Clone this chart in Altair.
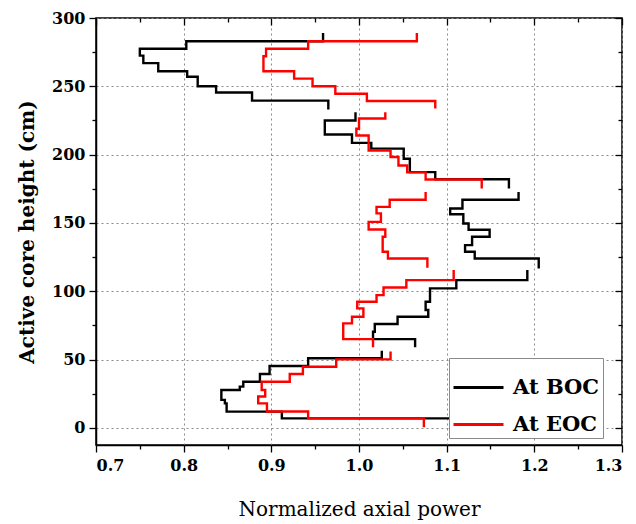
import altair as alt
import pandas as pd

SERIES = ["At BOC", "At EOC"]
COLORS = ["#000000", "#ff0000"]

# Height boundaries (cm) of each axial zone, top to bottom, and the power of each step
BOC_EDGES = [
    [289, 283, 277.5, 272.5, 267, 261, 257, 250, 245.5, 239.5, 233],
    [231, 225, 214.7, 208.6, 204.4, 197, 187.2, 182, 175.2],
    [172.7, 167, 160.6, 156.4, 149.6, 145, 139.9, 133.8, 128.9, 124, 116.7],
    [115.5, 108.2, 102.1, 92.3, 86.3, 81.4, 76, 70.4, 65, 59],
    [56.5, 51, 45.3, 39.5, 33.8, 30.2, 27.8, 20.5, 18, 11.9, 7, 0],
]
BOC_POWER = [
    [0.959, 0.803, 0.750, 0.754, 0.771, 0.804, 0.816, 0.837, 0.878, 0.965],
    [0.996, 0.961, 0.992, 1.014, 1.051, 1.058, 1.087, 1.171],
    [1.182, 1.118, 1.104, 1.119, 1.125, 1.149, 1.129, 1.121, 1.132, 1.205],
    [1.192, 1.111, 1.081, 1.076, 1.079, 1.044, 1.018, 1.016, 1.064],
    [1.026, 0.942, 0.898, 0.887, 0.868, 0.864, 0.843, 0.847, 0.849, 0.912, 1.130],
]
EOC_EDGES = [
    [289, 283, 277.5, 272, 261, 255.6, 250, 244.6, 239.3, 233.7],
    [231, 226.4, 219, 214, 203, 198.3, 192, 187, 181.8, 175.2],
    [172.7, 167, 161.8, 157, 150.8, 145.2, 139.9, 128.9, 124, 117.2],
    [115.5, 108.2, 102.8, 97.2, 92.3, 87.5, 81.4, 76.5, 65, 59],
    [56, 50.2, 44.8, 39.5, 33.8, 27.8, 23, 18, 12, 7, 0.5],
]
EOC_POWER = [
    [1.066, 0.942, 0.894, 0.891, 0.926, 0.947, 0.973, 1.009, 1.087],
    [1.030, 1.000, 0.997, 1.011, 1.036, 1.045, 1.055, 1.076, 1.140],
    [1.076, 1.035, 1.020, 1.025, 1.011, 1.030, 1.027, 1.033, 1.078],
    [1.108, 1.054, 1.028, 1.020, 0.998, 1.005, 0.992, 0.982, 1.016],
    [1.036, 0.974, 0.936, 0.921, 0.889, 0.893, 0.885, 0.895, 0.942, 1.074],
]

X_TICKS = [0.7, 0.75, 0.8, 0.85, 0.9, 0.95, 1.0, 1.05, 1.1, 1.15, 1.2, 1.25, 1.3]
Y_TICKS = [0, 25, 50, 75, 100, 125, 150, 175, 200, 225, 250, 275, 300]

rows = []
for name, edges_list, power_list in [("At BOC", BOC_EDGES, BOC_POWER),
                                     ("At EOC", EOC_EDGES, EOC_POWER)]:
    for z, (edges, powers) in enumerate(zip(edges_list, power_list)):
        k = 0
        for i, p in enumerate(powers):
            rows.append(dict(series=name, zone=z, idx=k, power=p, height=edges[i]))
            k += 1
            rows.append(dict(series=name, zone=z, idx=k, power=p, height=edges[i + 1]))
            k += 1
df = pd.DataFrame(rows)

FONT = "DejaVu Serif"
xmaj = "round(datum.value*100) % 10 == 0"
ymaj = "round(datum.value) % 50 == 0"

x_main = alt.Axis(
    values=X_TICKS, orient="bottom",
    labelExpr=f"{xmaj} ? format(datum.value, '.1f') : ''",
    tickSize={"condition": {"test": xmaj, "value": 7}, "value": 4},
    grid=True, gridDash=[2, 3], gridColor="#8a8a8a", gridWidth=1,
    gridOpacity={"condition": {"test": xmaj, "value": 1}, "value": 0},
    title="Normalized axial power", titleFont=FONT, titleFontSize=20,
    titleFontWeight="normal", titleColor="black", titlePadding=26,
    labelFont=FONT, labelFontSize=16, labelFontWeight="bold", labelColor="black",
    labelPadding=5, domainColor="black", domainWidth=1.5, tickColor="black",
    tickWidth=1.3,
)
y_main = alt.Axis(
    values=Y_TICKS, orient="left",
    labelExpr=f"{ymaj} ? format(datum.value, 'd') : ''",
    tickSize={"condition": {"test": ymaj, "value": 7}, "value": 4},
    grid=True, gridDash=[2, 3], gridColor="#8a8a8a", gridWidth=1,
    gridOpacity={"condition": {"test": ymaj, "value": 1}, "value": 0},
    title="Active core height (cm)", titleFont=FONT, titleFontSize=20,
    titleFontWeight="bold", titleColor="black", titlePadding=14,
    labelFont=FONT, labelFontSize=16, labelFontWeight="bold", labelColor="black",
    labelPadding=4, domainColor="black", domainWidth=1.5, tickColor="black",
    tickWidth=1.3,
)
x_mirror = alt.Axis(
    values=X_TICKS, orient="bottom", offset=-427, labels=False, grid=False,
    domain=False, title="",
    tickSize={"condition": {"test": xmaj, "value": 7}, "value": 4},
    tickColor="black", tickWidth=1.3,
)
y_mirror = alt.Axis(
    values=Y_TICKS, orient="left", offset=-526, labels=False, grid=False,
    domain=False, title="",
    tickSize={"condition": {"test": ymaj, "value": 7}, "value": 4},
    tickColor="black", tickWidth=1.3,
)

xscale = alt.Scale(domain=[0.7, 1.3], nice=False, zero=False)
yscale = alt.Scale(domain=[-12.5, 300], nice=False, zero=False)
color = alt.Color(
    "series:N",
    scale=alt.Scale(domain=SERIES, range=COLORS),
    legend=alt.Legend(
        orient="none", legendX=353, legendY=340, title=None,
        symbolType="stroke", symbolSize=2500, symbolStrokeWidth=3,
        labelFont=FONT, labelFontWeight="bold", labelFontSize=21,
        labelColor="black", fillColor="white", strokeColor="#8a8a8a",
        padding=3, rowPadding=-16, labelOffset=8,
    ),
)

base = alt.Chart(df).mark_line(strokeWidth=2.4, interpolate="linear")

boc = base.transform_filter(alt.datum.series == "At BOC").encode(
    x=alt.X("power:Q", scale=xscale, axis=x_main),
    y=alt.Y("height:Q", scale=yscale, axis=y_main),
    color=color,
    detail="zone:N",
    order=alt.Order("idx:Q"),
)
eoc = base.transform_filter(alt.datum.series == "At EOC").encode(
    x=alt.X("power:Q", scale=xscale, axis=x_mirror),
    y=alt.Y("height:Q", scale=yscale, axis=y_mirror),
    color=color,
    detail="zone:N",
    order=alt.Order("idx:Q"),
)

chart = (
    alt.layer(boc, eoc)
    .resolve_axis(x="independent", y="independent")
    .properties(
        width=526, height=427, autosize="none",
        padding={"left": 96, "top": 18, "right": 14, "bottom": 79},
        background="white",
    )
    .configure_view(stroke="black", strokeWidth=1.5)
)

chart.save("out.html", embed_options={"renderer": "svg", "actions": False})
